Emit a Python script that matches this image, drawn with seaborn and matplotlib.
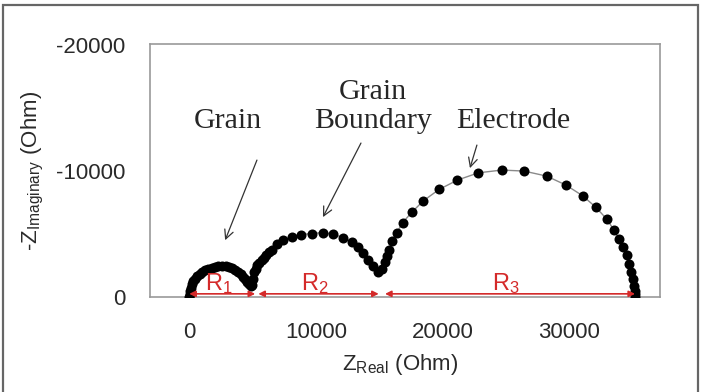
import matplotlib
matplotlib.use("Agg")
import matplotlib.pyplot as plt
import seaborn as sns
import pandas as pd
from matplotlib.patches import Rectangle

# Impedance data (Ohm)
grain_re = [0, 20, 60, 130, 220, 330, 470, 630, 820, 1030, 1260, 1500, 1760, 2030,
            2300, 2580, 2860, 3130, 3390, 3630, 3860, 4070, 4260, 4430, 4580, 4720, 4850]
grain_im = [0, -250, -500, -750, -1000, -1230, -1450, -1650, -1830, -1990, -2130, -2240,
            -2330, -2400, -2440, -2450, -2430, -2370, -2280, -2150, -2000, -1820, -1620,
            -1400, -1180, -1000, -900]

boundary_re = [4980, 5040, 5110, 5230, 5370, 5540, 5710, 5880, 6050, 6270, 6500, 6950,
               7420, 8080, 8790, 9660, 10530, 11370, 12150, 12820, 13340, 13730, 14130,
               14520, 14920]
boundary_im = [-950, -1450, -1980, -2250, -2520, -2720, -2920, -3110, -3310, -3530, -3760,
               -4180, -4500, -4760, -4950, -5030, -5110, -4980, -4690, -4370, -3970, -3490,
               -2970, -2440, -1980]

electrode_re = [15200, 15420, 15600, 15780, 15970, 16370, 16840, 17600, 18470, 19710, 21150,
                22810, 24660, 26420, 28210, 29730, 31050, 32100, 32950, 33500, 33900, 34250,
                34520, 34730, 34880, 35000, 35090, 35150, 35190, 35200]
electrode_im = [-2250, -2750, -3250, -3750, -4420, -5080, -5900, -6750, -7620, -8520, -9260,
                -9840, -10060, -9980, -9580, -8870, -8020, -7100, -6170, -5330, -4620, -3950,
                -3310, -2650, -2000, -1400, -900, -500, -200, 0]

# resistance spans R1, R2, R3
r_names = ["R$_1$", "R$_2$", "R$_3$"]
r_start = [0, 5450, 15450]
r_end = [5200, 14950, 35180]

x_ticks = [0, 10000, 20000, 30000]
y_ticks = [-20000, -10000, 0]

df = pd.DataFrame({
    "re": grain_re + boundary_re + electrode_re,
    "im": grain_im + boundary_im + electrode_im,
})

sns.set_style("white")
plt.rcParams["font.family"] = ["Liberation Sans", "DejaVu Sans"]
plt.rcParams["mathtext.fontset"] = "custom"
plt.rcParams["mathtext.rm"] = "Liberation Sans"
plt.rcParams["mathtext.it"] = "Liberation Sans"
plt.rcParams["axes.unicode_minus"] = False

fig = plt.figure(figsize=(7.06, 3.92), dpi=100)
ax = fig.add_axes([150 / 706, 1 - 297 / 392, 510 / 706, 253 / 392])

# fitted line and measured points
sns.lineplot(data=df, x="re", y="im", sort=False, color="#8a8a8a", lw=1, ax=ax)
sns.scatterplot(data=df, x="re", y="im", color="black", s=52, linewidth=0, ax=ax, zorder=3)

ax.set_xlim(-3100, 37150)
ax.set_ylim(0, -20050)
ax.set_xticks(x_ticks)
ax.set_yticks(y_ticks)
ax.tick_params(axis="both", direction="out", length=15, width=1.2, color="#888888",
               labelsize=16, labelcolor="#2a2a2a", pad=3)
for s in ax.spines.values():
    s.set_color("#999999")
    s.set_linewidth(1.2)

ax.set_xlabel("Z$_{\\mathrm{Real}}$ (Ohm)", fontsize=16, color="#2a2a2a")
ax.set_ylabel("-Z$_{\\mathrm{Imaginary}}$ (Ohm)", fontsize=16, color="#2a2a2a")
ax.xaxis.set_label_coords(0.49, -0.265)
ax.xaxis.label.set_va("center")
ax.yaxis.set_label_coords(-0.229, 0.5)
ax.yaxis.label.set_va("center")

# red resistance spans
red = "#d42a2a"
for name, a, b in zip(r_names, r_start, r_end):
    ax.annotate("", xy=(b, -250), xytext=(a, -250),
                arrowprops=dict(arrowstyle="<|-|>", color=red, lw=1.2,
                                mutation_scale=9, shrinkA=0, shrinkB=0))
    ax.text((a + b) / 2 - 300, -550, name, color=red, fontsize=17,
            ha="center", va="baseline", zorder=4)

# text labels with arrows
serif = ["Liberation Serif", "DejaVu Serif"]
ax.text(3050, -13390, "Grain", family=serif, fontsize=21.5, ha="center", va="baseline")
ax.text(14500, -13390, "Grain\nBoundary", family=serif, fontsize=21.5, ha="center",
        va="baseline", linespacing=1.15)
ax.text(25560, -13390, "Electrode", family=serif, fontsize=21.5, ha="center", va="baseline")

arrow = dict(arrowstyle="->", color="#333333", lw=0.9, mutation_scale=16,
             shrinkA=0, shrinkB=0)
ax.annotate("", xy=(2830, -4500), xytext=(5340, -10850), arrowprops=arrow)
ax.annotate("", xy=(10550, -6330), xytext=(13550, -12200), arrowprops=arrow)
ax.annotate("", xy=(22150, -10210), xytext=(22700, -12040), arrowprops=arrow)

# frame around the whole picture
fig.patches.append(Rectangle((3 / 706, -0.02), 695 / 706, 1.02 - 5 / 392,
                             transform=fig.transFigure, fill=False,
                             edgecolor="#666666", lw=1.6))

fig.savefig("out.png", dpi=100)
